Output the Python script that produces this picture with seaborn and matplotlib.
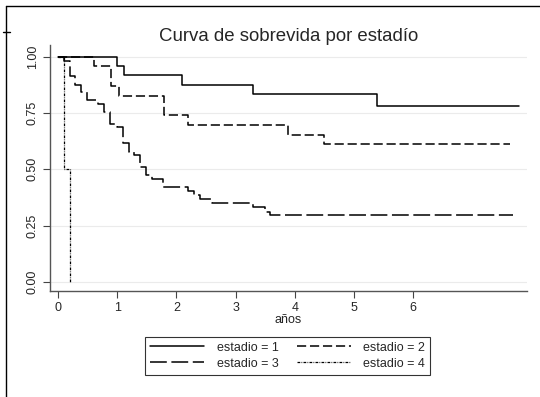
import numpy as np
import pandas as pd
import matplotlib
matplotlib.use("Agg")
import matplotlib.pyplot as plt
from matplotlib.lines import Line2D
import seaborn as sns

# Kaplan-Meier steps (time in years, survival after the step)
t_est1 = [0.0, 1.00, 1.11, 2.10, 3.30, 5.40, 7.80]
s_est1 = [1.0, 0.958, 0.917, 0.875, 0.833, 0.781, 0.781]

t_est2 = [0.0, 0.60, 0.90, 1.02, 1.79, 2.20, 3.89, 4.49, 7.65]
s_est2 = [1.0, 0.957, 0.870, 0.826, 0.739, 0.696, 0.652, 0.611, 0.611]

t_est3 = [0.0, 0.10, 0.19, 0.29, 0.38, 0.48, 0.68, 0.78, 0.87, 0.99, 1.10,
          1.19, 1.28, 1.38, 1.49, 1.58, 1.78, 2.20, 2.30, 2.40, 2.60, 3.30,
          3.49, 3.58, 7.70]
s_est3 = [1.0, 0.980, 0.914, 0.873, 0.843, 0.806, 0.791, 0.755, 0.703, 0.688,
          0.618, 0.578, 0.564, 0.512, 0.475, 0.456, 0.420, 0.403, 0.384, 0.368,
          0.352, 0.334, 0.312, 0.297, 0.297]

t_est4 = [0.0, 0.10, 0.20]
s_est4 = [1.0, 0.5, 0.0]

labels = ["estadio = 1", "estadio = 2", "estadio = 3", "estadio = 4"]
x_ticks = [0, 1, 2, 3, 4, 5, 6]
y_ticks = [0.0, 0.25, 0.5, 0.75, 1.0]

sns.set_style("white")
plt.rcParams["font.family"] = ["Liberation Sans", "DejaVu Sans"]

fig = plt.figure(figsize=(5.4, 3.97), dpi=100)
ax = fig.add_axes([0.0926, 0.2678, 0.8833, 0.618])

series = [(t_est1, s_est1), (t_est2, s_est2), (t_est3, s_est3), (t_est4, s_est4)]
dashes = [(None, None), (6, 2.5), (11, 3), (2.2, 1, 0.6, 1)]
for (tt, ss), lab, d in zip(series, labels, dashes):
    df = pd.DataFrame({"t": tt, "s": ss})
    kw = {}
    if d[0] is not None:
        kw["dashes"] = d
    sns.lineplot(data=df, x="t", y="s", ax=ax, color="black",
                 lw=1.1 if d[0] is None or len(d) == 2 else 0.9,
                 drawstyle="steps-post", estimator=None, sort=False,
                 label=lab, **kw)

ax.set_xlim(-0.14, 7.93)
ax.set_ylim(-0.0386, 1.05)
ax.set_xticks(x_ticks)
ax.set_yticks(y_ticks)
ax.set_yticklabels([f"{v:.2f}" for v in y_ticks], rotation=90, va="center")
ax.tick_params(axis="both", length=5, width=0.8, color="#444444",
               labelsize=9, pad=3, direction="out")
ax.tick_params(axis="both", which="both", bottom=True, left=True)
ax.grid(axis="y", color="#ebebeb", lw=0.8)
ax.set_axisbelow(True)
for side in ["top", "right"]:
    ax.spines[side].set_visible(False)
for side in ["left", "bottom"]:
    ax.spines[side].set_color("#555555")
    ax.spines[side].set_linewidth(1.0)

ax.set_xlabel("años", fontsize=9, labelpad=0)
ax.set_ylabel("")
ax.set_title("Curva de sobrevida por estadío", fontsize=13.4, pad=3)

h, l = ax.get_legend_handles_labels()
order = [0, 2, 1, 3]
leg = fig.legend([h[i] for i in order], [l[i] for i in order], ncol=2,
                 loc="center", bbox_to_anchor=(0.533, 0.104), fontsize=9,
                 frameon=True, fancybox=False, handlelength=4.3,
                 columnspacing=1.5, handletextpad=1.0, borderpad=0.4,
                 labelspacing=0.3)
leg.get_frame().set_edgecolor("black")
leg.get_frame().set_linewidth(0.8)
if ax.get_legend():
    ax.get_legend().remove()

# outer frame lines of the exported graph
fig.add_artist(Line2D([6 / 540, 1.0], [1 - 6 / 397] * 2, color="black", lw=1.0))
fig.add_artist(Line2D([6 / 540] * 2, [0.0, 1 - 6 / 397], color="black", lw=1.0))
fig.add_artist(Line2D([3 / 540, 10 / 540], [1 - 32 / 397] * 2, color="black", lw=1.0))

fig.savefig("out.png", dpi=100)
